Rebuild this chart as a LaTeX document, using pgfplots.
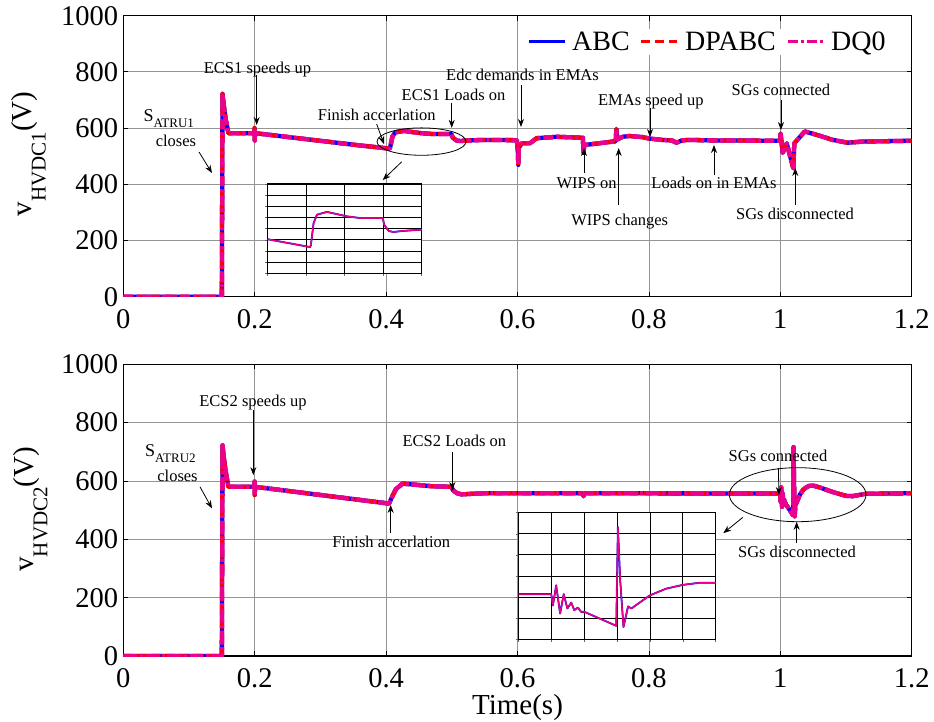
\documentclass[border=0pt]{standalone}
\usepackage{fontspec}
\setmainfont{Liberation Serif}
\usepackage{pgfplots}
\pgfplotsset{compat=1.18}
\usepackage{pgfplotstable}
\usetikzlibrary{arrows.meta}

\pgfplotstableread{
t v
0 0
0.1500 0
0.1505 360
0.1510 722
0.1530 680
0.1560 630
0.1600 582
0.1995 582
0.1998 600
0.2001 556
0.2004 582
0.3500 541
0.4050 527
0.4060 530
0.4075 546
0.4096 570
0.4140 585
0.4270 590
0.4400 586
0.4530 582
0.4700 579
0.4995 579
0.5012 567
0.5070 556
0.5130 554
0.5260 556
0.5480 558
0.5990 557
0.6005 520
0.6012 469
0.6020 530
0.6064 546
0.6190 546
0.6290 564
0.6600 569
0.6950 566
0.6995 566
0.7005 512
0.7015 540
0.7100 542
0.7450 552
0.7495 553
0.7505 597
0.7520 560
0.7600 569
0.7700 572
0.7900 568
0.8000 563
0.8200 558
0.8350 556
0.8420 548
0.8500 556
0.8600 558
0.9000 556
0.9995 555
1.0005 581
1.0036 512
1.0098 546
1.0198 457
1.0213 546
1.0372 588
1.0569 575
1.0797 558
1.1025 548
1.1250 552
1.2000 555
}\hvdcone

\pgfplotstableread{
t v
0 0
0.1500 0
0.1505 360
0.1510 722
0.1530 680
0.1560 630
0.1600 580
0.1995 580
0.1998 598
0.2001 552
0.2004 580
0.4030 523
0.4050 525
0.4100 550
0.4150 572
0.4250 591
0.4400 588
0.4700 582
0.4995 580
0.5020 568
0.5080 558
0.5150 554
0.5300 556
0.5500 558
0.6990 558
0.7005 548
0.7020 558
0.9900 557
0.9999 557
1.0004 530
1.0014 578
1.0026 511
1.0037 557
1.0048 523
1.0060 537
1.0069 519
1.0080 525
1.0090 515
1.0100 515
1.0197 482
1.0202 716
1.0209 590
1.0219 479
1.0233 528
1.0243 523
1.0299 554
1.0349 570
1.0400 579
1.0451 584
1.0500 584
1.0600 578
1.0800 562
1.1000 549
1.1100 548
1.1300 556
1.2000 558
}\hvdctwo

\newcommand\af{\fontsize{16.5}{18}\selectfont}

\tikzset{annarrow/.style={-{Stealth[length=8pt,width=6pt]}, line width=0.8pt, black}}

\pgfplotsset{
  mainax/.style={
    scale only axis, width=788.4pt, anchor=south west,
    xmin=0, xmax=1.2, ymin=0, ymax=1000,
    xtick={0,0.2,0.4,0.6,0.8,1,1.2}, ytick={0,200,400,600,800,1000},
    scaled ticks=false, /pgf/number format/1000 sep={},
    /pgf/number format/assume math mode=true,
    tick label style={font=\fontsize{28.5}{30}\selectfont},
    xticklabel style={inner sep=0pt, anchor=north, yshift=-12.5pt},
    yticklabel style={inner sep=0pt, anchor=east, xshift=-5pt},
    grid=major, major grid style={black!42, line width=0.8pt},
    tick align=inside, major tick length=5pt,
    tick style={black, line width=0.8pt},
    axis line style={line width=1.3pt},
    label style={font=\fontsize{29}{30}\selectfont},
  },
  insetax/.style={
    scale only axis, anchor=south west,
    axis background/.style={fill=white},
    grid=major, major grid style={black, line width=0.9pt},
    xticklabels={}, yticklabels={},
    tick align=outside, tick pos=left, major tick length=2.5pt,
    tick style={black!60, line width=0.5pt},
    axis line style={line width=1.3pt},
  },
  abc/.style={blue, line width=4.3pt, line join=round},
  dpabc/.style={red, line width=4.3pt, line join=round, dash pattern=on 9pt off 5pt},
  dqo/.style={magenta, line width=4.3pt, line join=round, dash pattern=on 14pt off 2.5pt on 3pt off 2.5pt},
  abcs/.style={blue, line width=1.8pt, line join=round},
  dpabcs/.style={red, line width=1.1pt, line join=round},
  dqos/.style={magenta, line width=1.2pt, line join=round},
}

\begin{document}
\begin{tikzpicture}
% ---------- top panel ----------
\begin{axis}[mainax, at={(123.3pt,-296.7pt)}, height=281pt,
  ylabel={v\raisebox{-14pt}{\fontsize{21}{22}\selectfont HVDC1}(V)},
  ylabel style={at={(axis description cs:-0.1162,0.508)}, anchor=base},
  legend columns=-1,
  legend image code/.code={\draw[#1, line width=3.3pt] (0pt,0pt) -- (36pt,0pt);},
  legend style={draw=none, fill=white, inner xsep=6pt, inner ysep=3pt,
    at={(axis description cs:0.5041,0.9075)}, anchor=west,
    font=\fontsize{28}{30}\selectfont, nodes={inner sep=0pt},
    /tikz/every odd column/.append style={column sep=6pt},
    /tikz/every even column/.append style={column sep=10pt}},
]
\addplot[abc] table[x=t,y=v] {\hvdcone};
\addplot[dpabc] table[x=t,y=v] {\hvdcone};
\addplot[dqo, dash pattern=on 10pt off 3pt on 3pt off 3pt] table[x=t,y=v] {\hvdcone};
\legend{ABC,DPABC,DQ0}

\node[anchor=base, font=\af] at (axis cs:0.2043,795) {ECS1 speeds up};
\draw[annarrow] (axis cs:0.2030,789) -- (axis cs:0.2030,611);
\node[anchor=base west, font=\fontsize{18}{20}\selectfont] at (axis cs:0.0254,623) {S\raisebox{-6pt}{\fontsize{13}{14}\selectfont ATRU1}};
\node[anchor=base, font=\af] at (axis cs:0.0802,534) {closes};
\draw[annarrow] (axis cs:0.1152,515) -- (axis cs:0.1350,440);
\node[anchor=base, font=\af] at (axis cs:0.3857,626) {Finish accerlation};
\draw[annarrow] (axis cs:0.3857,614) -- (axis cs:0.3968,543);
\node[anchor=base, font=\af] at (axis cs:0.5026,697) {ECS1 Loads on};
\draw[annarrow] (axis cs:0.4999,688) -- (axis cs:0.4999,601);
\draw[line width=0.8pt] (axis cs:0.4539,552) ellipse [x radius=44.5pt, y radius=13.7pt];
\draw[annarrow] (axis cs:0.4237,480) -- (axis cs:0.3948,415);
\node[anchor=base, font=\af] at (axis cs:0.6076,771) {Edc demands in EMAs};
\draw[annarrow] (axis cs:0.6053,753) -- (axis cs:0.6053,604);
\node[anchor=base, font=\af] at (axis cs:0.8029,682) {EMAs speed up};
\draw[annarrow] (axis cs:0.8017,671) -- (axis cs:0.8017,568);
\node[anchor=base, font=\af] at (axis cs:1.001,715) {SGs connected};
\draw[annarrow] (axis cs:1.001,700) -- (axis cs:1.001,593);
\node[anchor=base, font=\af] at (axis cs:0.7053,386) {WIPS on};
\draw[annarrow] (axis cs:0.7012,440) -- (axis cs:0.7012,529);
\node[anchor=base, font=\af] at (axis cs:0.7556,255) {WIPS changes};
\draw[annarrow] (axis cs:0.754,326) -- (axis cs:0.754,529);
\node[anchor=base, font=\af] at (axis cs:0.8991,386) {Loads on in EMAs};
\draw[annarrow] (axis cs:0.8991,433) -- (axis cs:0.8991,540);
\node[anchor=base, font=\af] at (axis cs:1.0224,273) {SGs disconnected};
\draw[annarrow] (axis cs:1.0228,326) -- (axis cs:1.0228,458);
\end{axis}

% top inset
\begin{axis}[insetax, at={(267.7pt,-273.3pt)}, width=154pt, height=89.3pt,
  xmin=0.35, xmax=0.55, ymin=480, ymax=640,
  xtick={0.35,0.4,0.45,0.5,0.55}, ytick={480,500,520,540,560,580,600,620,640}]
\addplot[abcs] table[x=t,y=v] {\hvdcone};
\addplot[dpabcs] table[x=t,y=v] {\hvdcone};
\addplot[dqos] table[x=t,y=v] {\hvdcone};
\end{axis}

% ---------- bottom panel ----------
\begin{axis}[mainax, at={(123.3pt,-656pt)}, height=291.7pt,
  ylabel={v\raisebox{-14pt}{\fontsize{21}{22}\selectfont HVDC2}(V)},
  ylabel style={at={(axis description cs:-0.114,0.503)}, anchor=base},
  xlabel={Time(s)},
  xlabel style={at={(axis description cs:0.5,-0.2015)}, anchor=base},
]
\addplot[abc] table[x=t,y=v] {\hvdctwo};
\addplot[dpabc] table[x=t,y=v] {\hvdctwo};
\addplot[dqo] table[x=t,y=v] {\hvdctwo};

\node[anchor=base, font=\af] at (axis cs:0.1974,857) {ECS2 speeds up};
\draw[annarrow] (axis cs:0.1979,843) -- (axis cs:0.1979,620);
\node[anchor=base west, font=\fontsize{18}{20}\selectfont] at (axis cs:0.028,683) {S\raisebox{-6pt}{\fontsize{13}{14}\selectfont ATRU2}};
\node[anchor=base, font=\af] at (axis cs:0.0825,598) {closes};
\draw[annarrow] (axis cs:0.1167,580) -- (axis cs:0.1350,506);
\node[anchor=base, font=\af] at (axis cs:0.4079,373) {Finish accerlation};
\draw[annarrow] (axis cs:0.407,422) -- (axis cs:0.407,518);
\node[anchor=base, font=\af] at (axis cs:0.504,717) {ECS2 Loads on};
\draw[annarrow] (axis cs:0.5008,700) -- (axis cs:0.5008,569);
\node[anchor=base, font=\af] at (axis cs:0.9965,666) {SGs connected};
\draw[annarrow] (axis cs:0.997,645) -- (axis cs:0.998,552);
\node[anchor=base, font=\af] at (axis cs:1.0254,338) {SGs disconnected};
\draw[annarrow] (axis cs:1.0249,387) -- (axis cs:1.0249,460);
\draw[line width=0.8pt] (axis cs:1.0265,553) ellipse [x radius=68.3pt, y radius=27pt];
\draw[annarrow] (axis cs:0.9428,475) -- (axis cs:0.9132,421);
\end{axis}

% bottom inset
\begin{axis}[insetax, at={(518.7pt,-639.3pt)}, width=197pt, height=126.6pt,
  xmin=0.99, xmax=1.05, ymin=450, ymax=750,
  xtick={0.99,1,1.01,1.02,1.03,1.04,1.05}, ytick={450,500,550,600,650,700,750}]
\addplot[abcs] table[x=t,y=v] {\hvdctwo};
\addplot[dpabcs] table[x=t,y=v] {\hvdctwo};
\addplot[dqos] table[x=t,y=v] {\hvdctwo};
\end{axis}

\pgfresetboundingbox
\path[use as bounding box] (0pt,0pt) rectangle (934pt,-722pt);
\end{tikzpicture}
\end{document}
